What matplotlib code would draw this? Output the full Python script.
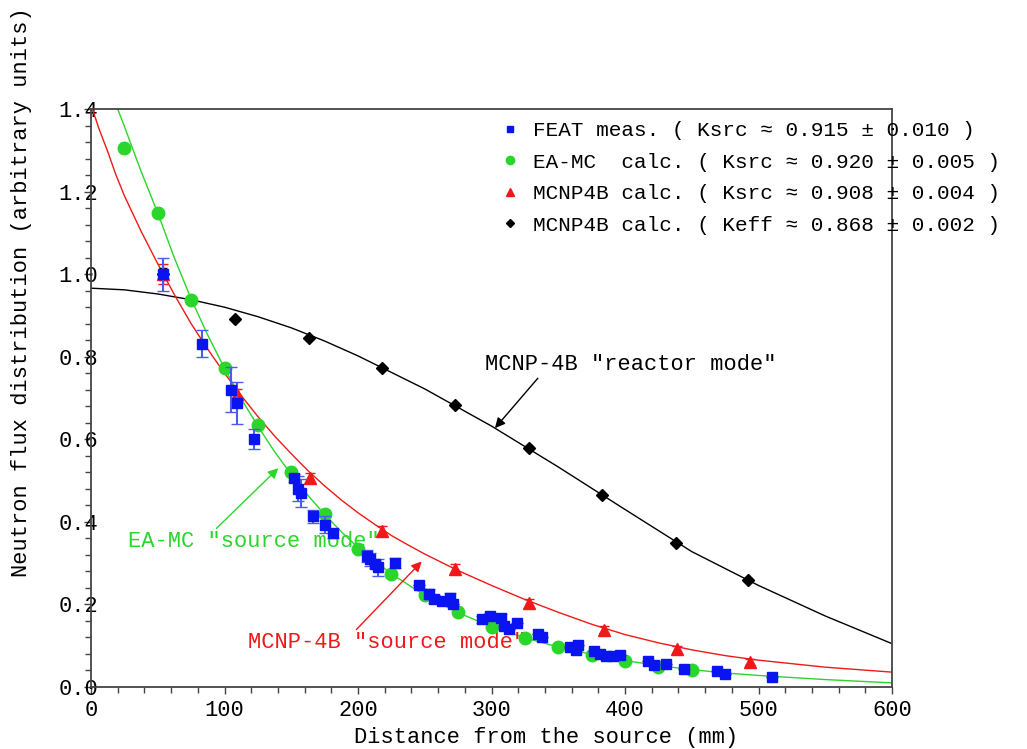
import matplotlib

matplotlib.use("Agg")
import matplotlib.pyplot as plt
from matplotlib.lines import Line2D
from matplotlib.ticker import MultipleLocator

MONO = "Liberation Mono"
FS = 15.8
FS_LEG = 15.1

# FEAT measurements (blue squares): distance (mm), flux, error
feat_x = [54, 83, 105, 109, 122, 152, 155, 157, 166, 175, 181, 207, 209, 213, 215,
          228, 246, 253, 257, 263, 269, 271, 293, 299, 307, 309, 313, 319, 335, 338,
          359, 363, 365, 377, 381, 386, 391, 396, 417, 422, 431, 444, 469, 475, 510]
feat_y = [1.00, 0.832, 0.720, 0.688, 0.600, 0.507, 0.480, 0.470, 0.413, 0.393, 0.372,
          0.318, 0.309, 0.298, 0.290, 0.301, 0.247, 0.226, 0.213, 0.208, 0.216, 0.200,
          0.164, 0.172, 0.168, 0.148, 0.140, 0.154, 0.129, 0.121, 0.096, 0.089, 0.102,
          0.086, 0.079, 0.074, 0.075, 0.078, 0.063, 0.053, 0.056, 0.043, 0.039, 0.032,
          0.025]
feat_err = [0.040, 0.032, 0.055, 0.050, 0.024, 0.010, 0.030, 0.035, 0.015, 0.020, 0.010,
            0.015, 0.015, 0.010, 0.020, 0.012, 0, 0.012, 0.010, 0, 0.012, 0,
            0.008, 0.008, 0.008, 0, 0, 0, 0, 0, 0, 0, 0,
            0, 0, 0, 0, 0, 0, 0, 0, 0, 0, 0, 0]

# EA-MC calculation (green circles)
eamc_x = [25, 50, 75, 100, 125, 150, 175, 200, 225, 250, 275, 300, 325, 350, 375, 400, 425, 450]
eamc_y = [1.305, 1.148, 0.937, 0.773, 0.635, 0.521, 0.419, 0.334, 0.274, 0.223, 0.182,
          0.145, 0.119, 0.097, 0.078, 0.063, 0.049, 0.042]
eamc_err = [0.012, 0.010, 0, 0, 0, 0, 0, 0, 0, 0, 0, 0, 0, 0, 0, 0, 0, 0]

# MCNP4B source mode (red triangles)
mcsrc_x = [54, 109, 164, 218, 273, 328, 384, 439, 494]
mcsrc_y = [1.00, 0.709, 0.507, 0.379, 0.285, 0.204, 0.139, 0.091, 0.061]
mcsrc_err = [0.025, 0.012, 0.012, 0.012, 0.012, 0.010, 0.008, 0.008, 0.008]

# MCNP4B reactor mode (black diamonds)
mceff_x = [54, 108, 163, 218, 273, 328, 383, 438, 492]
mceff_y = [1.00, 0.891, 0.845, 0.773, 0.683, 0.579, 0.465, 0.349, 0.259]
mceff_err = [0.015, 0, 0, 0, 0, 0, 0, 0, 0]

# fitted curves
green_cx = [20, 25, 37.5, 50, 62.5, 75, 87.5, 100, 112.5, 125, 137.5, 150, 162.5, 175,
            187.5, 200, 225, 250, 275, 300, 325, 350, 375, 400, 425, 450, 475, 500, 525,
            550, 575, 600]
green_cy = [1.40, 1.358, 1.249, 1.148, 1.039, 0.940, 0.852, 0.772, 0.698, 0.632, 0.570,
            0.515, 0.464, 0.418, 0.376, 0.338, 0.274, 0.222, 0.180, 0.146, 0.119, 0.097,
            0.079, 0.064, 0.052, 0.042, 0.034, 0.028, 0.023, 0.018, 0.014, 0.010]
red_cx = [0, 6, 12.5, 18.5, 25, 37.5, 50, 62.5, 75, 87.5, 100, 112.5, 125, 137.5, 150,
          162.5, 175, 187.5, 200, 212.5, 225, 237.5, 250, 275, 300, 325, 350, 375, 400,
          425, 450, 475, 500, 550, 600]
red_cy = [1.41, 1.352, 1.297, 1.242, 1.19, 1.104, 1.025, 0.950, 0.880, 0.818, 0.760,
          0.706, 0.655, 0.608, 0.565, 0.524, 0.487, 0.453, 0.422, 0.394, 0.367, 0.344,
          0.322, 0.282, 0.246, 0.212, 0.181, 0.152, 0.127, 0.107, 0.090, 0.076, 0.065,
          0.048, 0.036]
black_cx = [0, 25, 50, 75, 100, 125, 150, 175, 200, 250, 300, 350, 400, 450, 500, 550, 600]
black_cy = [0.966, 0.962, 0.952, 0.938, 0.920, 0.897, 0.870, 0.838, 0.802, 0.722, 0.632,
            0.533, 0.430, 0.328, 0.246, 0.172, 0.105]

legend_labels = [
    "FEAT meas. ( Ksrc \u2248 0.915 \u00b1 0.010 )",
    "EA-MC  calc. ( Ksrc \u2248 0.920 \u00b1 0.005 )",
    "MCNP4B calc. ( Ksrc \u2248 0.908 \u00b1 0.004 )",
    "MCNP4B calc. ( Keff \u2248 0.868 \u00b1 0.002 )",
]

BLUE, BLUE_ERR = "#0a14f0", "#4a5cf0"
GREEN, RED, BLACK = "#2ad62a", "#f01818", "#000000"

plt.rcParams["font.family"] = [MONO, "DejaVu Sans"]

fig = plt.figure(figsize=(10.27, 7.49), dpi=100)
ax = fig.add_axes([91 / 1027, 62 / 749, 801 / 1027, 578 / 749])

ax.plot(black_cx, black_cy, color=BLACK, lw=1.0, zorder=2)
ax.plot(red_cx, red_cy, color=RED, lw=1.0, zorder=2)
ax.plot(green_cx, green_cy, color=GREEN, lw=1.0, zorder=2)

ax.errorbar(mceff_x, mceff_y, yerr=mceff_err, fmt="D", ms=6, color=BLACK,
            ecolor=BLACK, elinewidth=1, capsize=3, zorder=4)
ax.errorbar(mcsrc_x, mcsrc_y, yerr=mcsrc_err, fmt="^", ms=8, color=RED,
            ecolor=RED, elinewidth=1, capsize=3.5, zorder=4)
ax.errorbar(eamc_x, eamc_y, yerr=eamc_err, fmt="o", ms=9, color=GREEN,
            ecolor=GREEN, elinewidth=1, capsize=3, zorder=3)
ax.errorbar(feat_x, feat_y, yerr=feat_err, fmt="s", ms=7, color=BLUE,
            ecolor=BLUE_ERR, elinewidth=1.5, capsize=4, zorder=5)

ax.set_xlim(0, 600)
ax.set_ylim(0, 1.4)
ax.xaxis.set_major_locator(MultipleLocator(100))
ax.xaxis.set_minor_locator(MultipleLocator(20))
ax.yaxis.set_major_locator(MultipleLocator(0.2))
ax.yaxis.set_minor_locator(MultipleLocator(0.04))
ax.yaxis.set_major_formatter(matplotlib.ticker.FormatStrFormatter("%.1f"))

for s in ax.spines.values():
    s.set_color("#444444")
    s.set_linewidth(1.3)
ax.tick_params(which="both", direction="out", color="#444444", width=1.0,
               labelsize=FS, top=False, right=False)
ax.tick_params(which="major", length=5)
ax.tick_params(which="minor", length=4)
ax.tick_params(axis="y", which="major", pad=-10)
ax.tick_params(axis="x", which="major", pad=4)

fig.text(22 / 1027, 1 - 292 / 749, "Neutron flux distribution (arbitrary units)",
         rotation=90, ha="center", va="center", fontsize=FS)
fig.text(546 / 1027, 1 - 737 / 749, "Distance from the source (mm)",
         ha="center", va="center", fontsize=FS)

handles = [
    Line2D([], [], ls="none", marker="s", ms=5, color=BLUE),
    Line2D([], [], ls="none", marker="o", ms=6, color=GREEN),
    Line2D([], [], ls="none", marker="^", ms=6, color=RED),
    Line2D([], [], ls="none", marker="D", ms=4.5, color=BLACK),
]
ax.legend(handles, legend_labels, loc="upper left",
          bbox_to_anchor=((500 - 91) / 801, (687 - 121) / 578),
          frameon=False, borderpad=0, borderaxespad=0, handlelength=1.0,
          handletextpad=0.55, labelspacing=0.6, prop={"family": MONO, "size": FS_LEG})

ax.annotate('MCNP-4B "reactor mode"', xy=(302.6, 0.627), xytext=(295, 0.780),
            ha="left", va="center", fontsize=FS, color=BLACK,
            arrowprops=dict(arrowstyle="-|>", color=BLACK, lw=1.0,
                            mutation_scale=15, shrinkA=0, shrinkB=0,
                            relpos=(0.19, 0.0)))
ax.annotate('EA-MC "source mode"', xy=(140.3, 0.530), xytext=(27.7, 0.352),
            ha="left", va="center", fontsize=FS, color=GREEN,
            arrowprops=dict(arrowstyle="-|>", color=GREEN, lw=1.0,
                            mutation_scale=15, shrinkA=0, shrinkB=0,
                            relpos=(0.34, 1.0)))
ax.annotate('MCNP-4B "source mode"', xy=(247.7, 0.304), xytext=(117.6, 0.107),
            ha="left", va="center", fontsize=FS, color=RED,
            arrowprops=dict(arrowstyle="-|>", color=RED, lw=1.0,
                            mutation_scale=15, shrinkA=0, shrinkB=0,
                            relpos=(0.38, 1.0)))

fig.savefig("out.png", dpi=100)
